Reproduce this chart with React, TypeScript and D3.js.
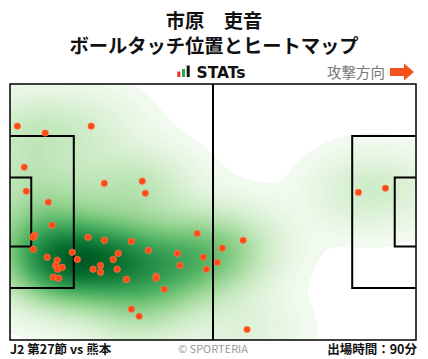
import React, { useMemo } from "react";
import * as d3 from "d3";

const W = 428;
const H = 359;
const FIELD_LEN = 105;
const FIELD_WID = 68;

// Ball touch positions (metres, x: own goal -> attacking goal, y: top -> bottom)
const touchX = [
  1.9, 9.1, 21.0, 3.7, 24.4, 34.2, 35.0, 4.2, 9.9, 10.9,
  6.3, 5.9, 6.0, 9.6, 12.2, 11.8, 12.3, 13.5, 11.2, 12.6,
  16.1, 17.4, 20.2, 24.4, 31.4, 28.0, 26.7, 21.5, 23.4, 23.4,
  27.7, 30.1, 35.8, 31.4, 33.4, 48.4, 43.3, 44.0, 50.0, 50.8,
  37.8, 37.8, 39.9, 54.9, 53.6, 60.3, 61.3, 90.1, 97.1,
];
const touchY = [
  11.2, 13.0, 11.2, 22.1, 26.4, 25.8, 29.0, 28.5, 31.4, 37.5,
  40.2, 40.7, 43.9, 46.0, 46.8, 48.2, 49.2, 48.7, 51.3, 51.6,
  44.7, 46.6, 40.7, 41.5, 41.8, 45.0, 46.6, 49.2, 48.2, 50.0,
  49.2, 51.9, 44.2, 59.8, 61.7, 39.7, 45.0, 48.2, 46.0, 49.2,
  51.1, 51.6, 54.5, 43.6, 47.4, 41.5, 65.2, 28.8, 27.7,
];

const titleName = "市原　吏音";
const titleSub = "ボールタッチ位置とヒートマップ";
const brandLabel = "STATs";
const directionLabel = "攻撃方向";
const matchLabel = "J2 第27節 vs 熊本";
const creditLabel = "© SPORTERIA";
const minutesLabel = "出場時間：90分";

const JP = "'Noto Sans CJK JP', 'Noto Sans', sans-serif";

export default function App() {
  const x = d3.scaleLinear().domain([0, FIELD_LEN]).range([10, 416]);
  const y = d3.scaleLinear().domain([0, FIELD_WID]).range([84, 340]);

  const contours = useMemo(() => {
    const res = 0.5;
    const nx = Math.round(FIELD_LEN / res);
    const ny = Math.round(FIELD_WID / res);
    const bx = 9.0;
    const by = 6.6;
    const values = new Float64Array(nx * ny);
    for (let j = 0; j < ny; j++) {
      const gy = (j + 0.5) * res;
      for (let i = 0; i < nx; i++) {
        const gx = (i + 0.5) * res;
        let s = 0;
        for (let k = 0; k < touchX.length; k++) {
          const dx = (gx - touchX[k]) / bx;
          const dy = (gy - touchY[k]) / by;
          s += Math.exp(-0.5 * (dx * dx + dy * dy));
        }
        values[j * nx + i] = s;
      }
    }
    const max = d3.max(values) as number;
    const L0 = max * 0.009;
    const N = 80;
    const th = d3.range(N).map((k) => L0 + ((max - L0) * k) / N);
    const cs = d3.contours().size([nx, ny]).thresholds(th)(Array.from(values));
    const proj = d3.geoTransform({
      point(px: number, py: number) {
        (this as any).stream.point(x(px * res), y(py * res));
      },
    });
    const path = d3.geoPath(proj);
    return cs.map((c) => {
      const t = (c.value - L0) / (max - L0);
      return {
        d: path(c as any) || "",
        color: d3.interpolateGreens(0.04 + 0.9 * Math.pow(t, 0.75)),
      };
    });
  }, []);

  const lineColor = "#000";
  const pa = 16.5;
  const paW = 40.32;
  const ga = 5.5;
  const gaW = 18.32;

  return (
    <svg width={W} height={H} style={{ position: "absolute", left: 0, top: 0, background: "#fff" }}>
      <defs>
        <clipPath id="fieldClip">
          <rect x={x(0)} y={y(0)} width={x(FIELD_LEN) - x(0)} height={y(FIELD_WID) - y(0)} />
        </clipPath>
      </defs>
      <rect x={0} y={0} width={W} height={H} fill="#fff" />

      {/* Header */}
      <text x={214} y={28} textAnchor="middle" fontFamily={JP} fontWeight={700} fontSize={19.3} fill="#111">
        {titleName}
      </text>
      <text x={214} y={53} textAnchor="middle" fontFamily={JP} fontWeight={700} fontSize={19.3} fill="#111">
        {titleSub}
      </text>

      {/* STATs logo */}
      <rect x={177.3} y={71.5} width={3} height={5.5} fill="#e8352c" />
      <rect x={182} y={69} width={3} height={8} fill="#2aa84a" />
      <rect x={186.7} y={65.5} width={3} height={11.5} fill="#111" />
      <text x={196.5} y={77.5} fontFamily="'DejaVu Sans', sans-serif" fontWeight={700} fontSize={15.5} fill="#111">
        {brandLabel}
      </text>

      {/* Attack direction */}
      <text x={385} y={78} textAnchor="end" fontFamily={JP} fontSize={14.5} fill="#777">
        {directionLabel}
      </text>
      <path d="M390,68 L404,68 L404,63.5 L414,72 L404,80.5 L404,76 L390,76 Z" fill="#f4511e" />

      {/* Heatmap */}
      <g clipPath="url(#fieldClip)">
        {contours.map((c, i) => (
          <path key={i} d={c.d} fill={c.color} stroke="none" />
        ))}
      </g>

      {/* Pitch lines */}
      <g fill="none" stroke={lineColor}>
        <rect x={x(0)} y={y(0)} width={x(FIELD_LEN) - x(0)} height={y(FIELD_WID) - y(0)} strokeWidth={1.5} />
        <line x1={x(FIELD_LEN / 2)} x2={x(FIELD_LEN / 2)} y1={y(0)} y2={y(FIELD_WID)} strokeWidth={2} />
        <path
          d={`M${x(0)},${y((FIELD_WID - paW) / 2)} H${x(pa)} V${y((FIELD_WID + paW) / 2)} H${x(0)}`}
          strokeWidth={2}
        />
        <path
          d={`M${x(0)},${y((FIELD_WID - gaW) / 2)} H${x(ga)} V${y((FIELD_WID + gaW) / 2)} H${x(0)}`}
          strokeWidth={2}
        />
        <path
          d={`M${x(FIELD_LEN)},${y((FIELD_WID - paW) / 2)} H${x(FIELD_LEN - pa)} V${y((FIELD_WID + paW) / 2)} H${x(FIELD_LEN)}`}
          strokeWidth={2}
        />
        <path
          d={`M${x(FIELD_LEN)},${y((FIELD_WID - gaW) / 2)} H${x(FIELD_LEN - ga)} V${y((FIELD_WID + gaW) / 2)} H${x(FIELD_LEN)}`}
          strokeWidth={2}
        />
      </g>

      {/* Touch points */}
      <g>
        {touchX.map((tx, i) => (
          <circle key={i} cx={x(tx)} cy={y(touchY[i])} r={3.3} fill="#ff4a17" stroke="#ff8a60" strokeWidth={0.5} />
        ))}
      </g>

      {/* Footer */}
      <text x={10} y={354} fontFamily={JP} fontWeight={700} fontSize={12.5} fill="#111">
        {matchLabel}
      </text>
      <text x={213} y={353} textAnchor="middle" fontFamily={JP} fontSize={11} fill="#999">
        {creditLabel}
      </text>
      <text x={417} y={354} textAnchor="end" fontFamily={JP} fontWeight={700} fontSize={12.5} fill="#111">
        {minutesLabel}
      </text>
    </svg>
  );
}
